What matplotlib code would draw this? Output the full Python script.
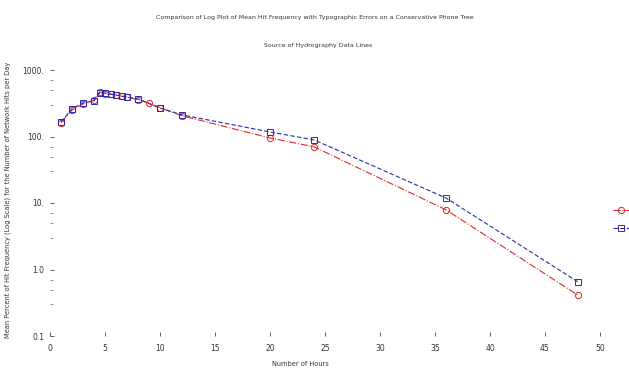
import matplotlib
matplotlib.use("Agg")
import matplotlib.pyplot as plt
from matplotlib.ticker import FixedLocator, LogLocator, NullFormatter

# ---- data ----
x_blue = [1, 2, 3, 4, 4.5, 5, 5.5, 6, 6.5, 7, 8, 10, 12, 20, 24, 36, 48]
y_blue = [165, 259, 319, 342, 451, 451, 436, 421, 406, 393, 366, 268, 211, 117, 89, 11.9, 0.65]
x_red = [1, 2, 3, 4, 4.5, 5, 5.5, 6, 6.5, 7, 8, 9, 10, 12, 20, 24, 36, 48]
y_red = [162, 250, 309, 354, 467, 440, 430, 418, 404, 388, 360, 318, 270, 205, 95, 70, 7.9, 0.41]
x_ticks = [0, 5, 10, 15, 20, 25, 30, 35, 40, 45, 50]
y_ticks = [0.1, 1, 10, 100, 1000]
y_tick_labels = ["0.1", "1.0", "10.", "100.", "1000."]
title = "Comparison of Log Plot of Mean Hit Frequency with Typographic Errors on a Conservative Phone Tree"
subtitle = "Source of Hydrography Data Lines"
xlabel = "Number of Hours"
ylabel = "Mean Percent of Hit Frequency (Log Scale) for the Number of Network Hits per Day"

fig = plt.figure(figsize=(6.29, 3.68), dpi=100)
ax = fig.add_axes([50/629, 1-336/368, 550/629, 266/368])

l_red, = ax.plot(x_red, y_red, color="#dd2a2a", linestyle="-.", linewidth=0.8,
                 marker="o", markersize=4.5, markerfacecolor="none", markeredgewidth=0.7)
l_blue, = ax.plot(x_blue, y_blue, color="#2a2aaa", linestyle="--", dashes=(4, 2), linewidth=0.8,
                  marker="s", markersize=4.5, markerfacecolor="none", markeredgewidth=0.7)

ax.set_yscale("log")
ax.set_xlim(0, 50)
ax.set_ylim(0.1, 1000)
ax.set_xticks(x_ticks)
ax.set_xticklabels([str(t) for t in x_ticks])
ax.yaxis.set_major_locator(FixedLocator(y_ticks))
ax.set_yticklabels(y_tick_labels)
ax.yaxis.set_minor_locator(LogLocator(base=10, subs=(3, 5, 7)))
ax.yaxis.set_minor_formatter(NullFormatter())

for s in ax.spines.values():
    s.set_visible(False)
ax.tick_params(axis="both", which="major", labelsize=5.5, length=3, width=0.6,
               color="#444444", labelcolor="#333333", direction="in")
ax.tick_params(axis="y", which="minor", length=2, width=0.5, color="#666666", direction="in")
ax.tick_params(axis="x", pad=6)
ax.tick_params(axis="y", pad=4)

fig.text(0.5, 1-18/368, title, ha="center", va="center", fontsize=4.5, color="#333333")
fig.text(318/629, 1-45/368, subtitle, ha="center", va="center", fontsize=4.5, color="#333333")
fig.text(300/629, 1-364/368, xlabel, ha="center", va="center", fontsize=4.8, color="#333333")
fig.text(8/629, 1-200/368, ylabel, ha="center", va="center", rotation=90, fontsize=4.8, color="#333333")

# legend sits at the right edge; its labels fall outside the picture in the reference
fig.legend([l_red, l_blue], ["", ""], loc="upper left", bbox_to_anchor=(613/629, 1-205/368),
           frameon=False, fontsize=7, handlelength=1.7, labelspacing=0.9,
           borderaxespad=0, borderpad=0, handletextpad=0.2)

fig.savefig("out.png", dpi=100)
